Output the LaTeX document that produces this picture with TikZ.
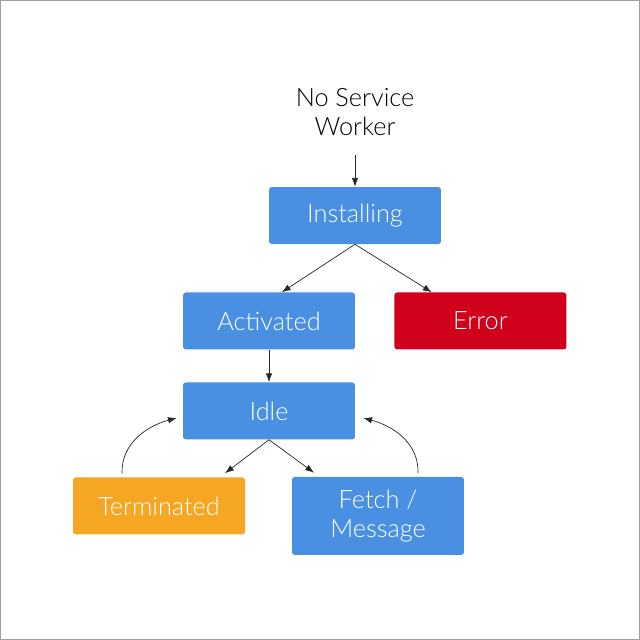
\documentclass[tikz,border=0pt]{standalone}
\usepackage{fontspec}
\setmainfont{Lato}[UprightFont={* Light}]
\usepackage{tikz}
\usetikzlibrary{arrows.meta,positioning}

\definecolor{swblue}{HTML}{4A90E2}
\definecolor{swred}{HTML}{D0021B}
\definecolor{sworange}{HTML}{F5A623}

\begin{document}
\begin{tikzpicture}[
    state/.style={rounded corners=2pt, minimum width=4.3cm, minimum height=1.425cm,
                  text=white, font=\fontsize{18}{20.5}\selectfont, align=center, inner sep=0pt},
    flow/.style={-{Latex[length=2.2mm,width=1.6mm]}, line width=0.5pt, black!85}
  ]
       % frame
       \draw[gray!75, line width=0.8pt] (0.0125,0.0125) rectangle (15.9875,15.9875);

       \node[font=\fontsize{18}{20.8}\selectfont, align=center] (none) at (8.875,13.2) {No Service\\Worker};
       \coordinate (nonebot) at (8.875,12.125);

       \node[state, fill=swblue]   (install) at (8.875,10.6125) {Installing};
       \node[state, fill=swblue]   (active)  at (6.725,7.975)   {Activated};
       \node[state, fill=swred]    (error)   at (12.0125,7.975) {Error};
       \node[state, fill=swblue]   (idle)    at (6.725,5.725)   {Idle};
       \node[state, fill=sworange] (term)    at (3.975,3.35)    {Terminated};
       \node[state, fill=swblue, minimum height=1.95cm] (fetch) at (9.45,3.1) {Fetch /\\Message};

       \draw[flow] (nonebot) -- (install.north);
       \draw[flow] (install.south) -- ([xshift=0.32cm]active.north);
       \draw[flow] (install.south) -- ([xshift=-1.22cm]error.north);
       \draw[flow] (active.south) -- (idle.north);
       \draw[flow] (idle.south) -- ([xshift=1.65cm,yshift=0.1cm]term.north);
       \draw[flow] (idle.south) -- ([xshift=-1.6cm,yshift=0.1cm]fetch.north);
       % loops back to idle
       \draw[flow] ([xshift=-0.925cm,yshift=0.09cm]term.north) to[out=92,in=195] ([xshift=-0.15cm,yshift=-0.175cm]idle.west);
       \draw[flow] ([xshift=1cm,yshift=0.09cm]fetch.north) to[out=88,in=-15] ([xshift=0.2cm,yshift=-0.175cm]idle.east);
\end{tikzpicture}
\end{document}
